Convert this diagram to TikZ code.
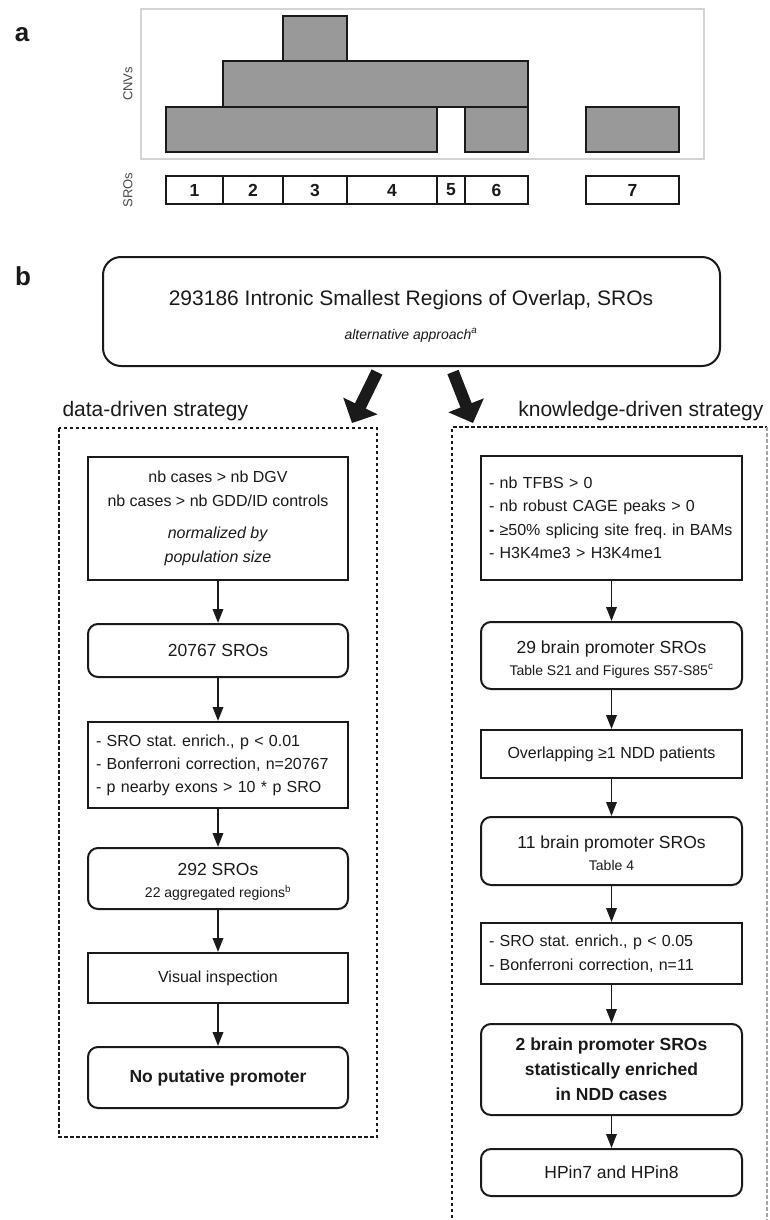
\documentclass[tikz,border=0pt]{standalone}
\usepackage{fontspec}
\setmainfont{Liberation Sans}
\usetikzlibrary{arrows.meta}
\newcommand\fsz[2]{\fontsize{#1}{#2}\selectfont}
\definecolor{ink}{HTML}{1A1A1A}
\definecolor{cnvfill}{HTML}{999999}
\definecolor{framegray}{HTML}{D4D4D4}
\begin{document}
\frenchspacing
\begin{tikzpicture}[x=1pt,y=-1pt,
  every node/.style={text=ink},
  cnv/.style={fill=cnvfill, draw=ink, line width=1.2pt},
  srobox/.style={draw=ink, line width=1.1pt, minimum height=28pt, inner sep=0pt, font=\fsz{17.5}{20}\bfseries},
  sbox/.style={draw=ink, line width=2pt, inner sep=0pt, align=center},
  rbox/.style={sbox, rounded corners=10pt},
  lbox/.style={draw=ink, line width=2pt, inner xsep=8pt, inner ysep=0pt, align=left},
  arr/.style={draw=ink, line width=1.9pt, -{Triangle[length=14pt,width=10.5pt]}},
  bigarr/.style={draw=ink, line width=12pt, -{Triangle[length=19pt,width=37pt]}},
  dbox/.style={draw=ink, line width=1.5pt, dash pattern=on 3.5pt off 2.5pt},
  panel/.style={font=\fsz{26}{30}\bfseries, anchor=base},
  sidelab/.style={rotate=90, font=\fsz{13}{15}, text=ink!80},
  sublab/.style={anchor=base, font=\fsz{14}{17}},
  mainlab/.style={anchor=base, font=\fsz{17.5}{21}},
  strat/.style={font=\fsz{21}{25}}
]
\useasboundingbox (0,0) rectangle (769,1220);

% ---------- panel a ----------
\node[panel] (pa) at (22,42) {a};
\draw[framegray, line width=1.5pt] (141,9) rectangle (704,159);
\filldraw[cnv] (166,107) rectangle (437,152);
\filldraw[cnv] (465,107) rectangle (528,152);
\filldraw[cnv] (586,107) rectangle (679,152);
\filldraw[cnv] (223,61) rectangle (528,107);
\filldraw[cnv] (283,16) rectangle (347,61);
\node[sidelab] (cnvlab) at (128,84) {CNVs};
\node[sidelab] (srolab) at (128,190) {SROs};
\node[srobox, minimum width=57pt] (s1) at (194.5,190) {1};
\node[srobox, minimum width=60pt] (s2) at (253,190) {2};
\node[srobox, minimum width=64pt] (s3) at (315,190) {3};
\node[srobox, minimum width=90pt] (s4) at (392,190) {4};
\node[srobox, minimum width=28pt] (s5) at (451,190) {5};
\node[srobox, minimum width=63pt] (s6) at (496.5,190) {6};
\node[srobox, minimum width=93pt] (s7) at (632.5,190) {7};

% ---------- panel b ----------
\node[panel] (pb) at (23,285) {b};
\node[sbox, rounded corners=18pt, minimum width=617pt, minimum height=109pt] (top) at (411.5,311.5) {};
\node[anchor=base, font=\fsz{21}{25}] (title) at (411,305) {293186 Intronic Smallest Regions of Overlap, SROs};
\node[sublab, font=\fsz{14}{17}\itshape] (alt) at (411,339) {alternative approach\textsuperscript{a}};

\coordinate (ba1) at (377,372);
\coordinate (ba1t) at (352,423);
\coordinate (ba2) at (453,372);
\coordinate (ba2t) at (473,423);
\draw[bigarr] (ba1) -- (ba1t);
\draw[bigarr] (ba2) -- (ba2t);

\node[strat, anchor=base west] (ddlab) at (59,416) {data-driven strategy};
\node[strat, anchor=base east] (kdlab) at (767,416) {knowledge-driven strategy};

\draw[dbox] (59,428) rectangle (377,1137);
\draw[dbox] (452,1224) -- (452,427) -- (767,427);
\draw[dbox, draw=gray!70] (767,427) -- (767,1224);

% left column
\node[sbox, minimum width=260pt, minimum height=123pt, font=\fsz{16}{24}] (L1) at (218,518.5)
  {nb cases > nb DGV\\ nb cases > nb GDD/ID controls\\[8pt] \textit{normalized by}\\ \textit{population size}};
\node[rbox, minimum width=260pt, minimum height=53pt, font=\fsz{17.5}{21}] (L2) at (218,650.5) {20767 SROs};
\node[lbox, text width=244pt, minimum height=86pt, font=\fsz{16}{23}] (L3) at (218,765)
  {- SRO stat. enrich., p < 0.01\\- Bonferroni correction, n=20767\\- p nearby exons > 10 * p SRO};
\node[rbox, minimum width=260pt, minimum height=61pt] (L4) at (218,878.5) {};
\node[mainlab] (L4a) at (218,875) {292 SROs};
\node[sublab] (L4b) at (218,897.5) {22 aggregated regions\textsuperscript{b}};
\node[sbox, minimum width=260pt, minimum height=50pt, font=\fsz{16}{20}] (L5) at (218,978) {Visual inspection};
\node[rbox, minimum width=260pt, minimum height=61pt, font=\fsz{17.5}{21}\bfseries] (L6) at (218,1077.5) {No putative promoter};

\draw[arr] (L1.south) -- (L2.north);
\draw[arr] (L2.south) -- (L3.north);
\draw[arr] (L3.south) -- (L4.north);
\draw[arr] (L4.south) -- (L5.north);
\draw[arr] (L5.south) -- (L6.north);

% right column
\node[lbox, text width=245pt, minimum height=124pt, font=\fsz{16}{23.5}] (R1) at (611.5,518)
  {- nb TFBS > 0\\- nb robust CAGE peaks > 0\\\mbox{\textbf{-} ≥50\% splicing site freq. in BAMs}\\- H3K4me3 > H3K4me1};
\node[rbox, minimum width=261pt, minimum height=67pt] (R2) at (611.5,655.5) {};
\node[mainlab] (R2a) at (611.5,653) {29 brain promoter SROs};
\node[sublab] (R2b) at (611.5,675) {Table S21 and Figures S57-S85\textsuperscript{c}};
\node[sbox, minimum width=261pt, minimum height=48pt, font=\fsz{16}{20}] (R3) at (611.5,754) {Overlapping ≥1 NDD patients};
\node[rbox, minimum width=261pt, minimum height=68pt] (R4) at (611.5,851) {};
\node[mainlab] (R4a) at (611.5,848) {11 brain promoter SROs};
\node[sublab] (R4b) at (611.5,870.5) {Table 4};
\node[lbox, text width=245pt, minimum height=61pt, font=\fsz{16}{24}] (R5) at (611.5,953.5)
  {- SRO stat. enrich., p < 0.05\\- Bonferroni correction, n=11};
\node[rbox, minimum width=261pt, minimum height=91pt, font=\fsz{17.5}{25}\bfseries] (R6) at (611.5,1069.5)
  {2 brain promoter SROs\\statistically enriched\\in NDD cases};
\node[rbox, minimum width=261pt, minimum height=47pt, font=\fsz{17.5}{21}] (R7) at (611.5,1172.5) {HPin7 and HPin8};

\draw[arr] (R1.south) -- (R2.north);
\draw[arr] (R2.south) -- (R3.north);
\draw[arr] (R3.south) -- (R4.north);
\draw[arr] (R4.south) -- (R5.north);
\draw[arr] (R5.south) -- (R6.north);
\draw[arr] (R6.south) -- (R7.north);
\end{tikzpicture}
\end{document}
